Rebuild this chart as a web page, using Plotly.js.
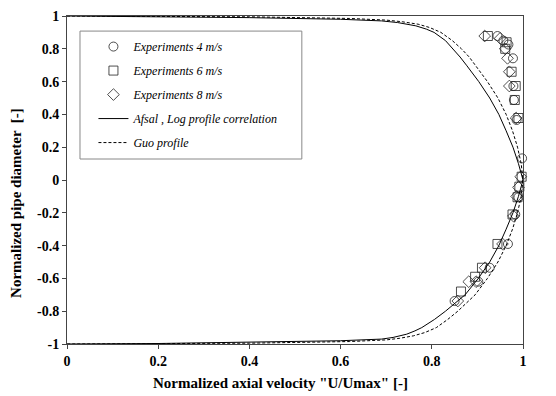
<!DOCTYPE html>
<html>
<head>
<meta charset="utf-8">
<script src="https://cdn.plot.ly/plotly-3.0.1.min.js"></script>
<style>html,body{margin:0;padding:0;background:#fff;}#chart{width:556px;height:396px;}</style>
</head>
<body>
<div id="chart"></div>
<script>
// Afsal, log profile correlation (solid)
var afsalY = [1, 0.997, 0.99, 0.98, 0.97, 0.96, 0.94, 0.92, 0.9, 0.85, 0.8, 0.75, 0.7, 0.6, 0.5, 0.4, 0.3, 0.2, 0.1, 0,
              -0.1, -0.2, -0.3, -0.4, -0.5, -0.6, -0.7, -0.75, -0.8, -0.85, -0.9, -0.92, -0.94, -0.96, -0.97, -0.98, -0.99, -0.997, -1];
var afsalX = [0, 0.2, 0.4, 0.6, 0.69, 0.725, 0.765, 0.788, 0.805, 0.83, 0.847, 0.862, 0.876, 0.903, 0.927, 0.947, 0.963, 0.978, 0.99, 1.0,
              0.99, 0.978, 0.963, 0.947, 0.927, 0.902, 0.873, 0.852, 0.83, 0.806, 0.778, 0.763, 0.745, 0.715, 0.69, 0.6, 0.4, 0.2, 0];
// Guo profile (dashed)
var guoY = [1, 0.995, 0.985, 0.975, 0.965, 0.95, 0.93, 0.9, 0.85, 0.8, 0.75, 0.7, 0.6, 0.5, 0.4, 0.3, 0.2, 0.1, 0,
            -0.1, -0.2, -0.3, -0.4, -0.5, -0.6, -0.7, -0.75, -0.8, -0.85, -0.9, -0.93, -0.95, -0.965, -0.975, -0.985, -0.995, -1];
var guoX = [0, 0.4, 0.62, 0.7, 0.735, 0.77, 0.795, 0.82, 0.845, 0.865, 0.882, 0.896, 0.922, 0.945, 0.963, 0.977, 0.988, 0.996, 1.0,
            0.996, 0.988, 0.977, 0.963, 0.945, 0.922, 0.895, 0.877, 0.857, 0.835, 0.81, 0.785, 0.76, 0.73, 0.7, 0.62, 0.4, 0];
// Experiments 4 m/s (circles)
var exp4X = [0.944, 0.957, 0.968, 0.978, 0.979, 0.98, 0.986, 0.998, 0.99, 0.983, 0.967, 0.927, 0.902, 0.85];
var exp4Y = [0.878, 0.85, 0.826, 0.742, 0.573, 0.488, 0.366, 0.132, -0.105, -0.21, -0.39, -0.535, -0.62, -0.738];
// Experiments 6 m/s (squares)
var exp6X = [0.923, 0.964, 0.961, 0.975, 0.984, 0.982, 0.99, 0.997, 0.992, 0.988, 0.977, 0.944, 0.91, 0.895, 0.864];
var exp6Y = [0.878, 0.84, 0.80, 0.66, 0.573, 0.488, 0.378, 0.02, -0.041, -0.105, -0.21, -0.39, -0.535, -0.59, -0.68];
// Experiments 8 m/s (diamonds)
var exp8X = [0.916, 0.95, 0.961, 0.966, 0.97, 0.97, 0.985, 0.995, 0.99, 0.986, 0.979, 0.955, 0.917, 0.881, 0.897, 0.857];
var exp8Y = [0.878, 0.864, 0.80, 0.742, 0.66, 0.573, 0.378, 0.02, -0.045, -0.1, -0.22, -0.39, -0.535, -0.62, -0.62, -0.738];

var xTickVals = [0, 0.2, 0.4, 0.6, 0.8, 1];
var xTickText = ['0', '0.2', '0.4', '0.6', '0.8', '1'];
var yTickVals = [1, 0.8, 0.6, 0.4, 0.2, 0, -0.2, -0.4, -0.6, -0.8, -1];
var yTickText = ['1', '0.8', '0.6', '0.4', '0.2', '0', '-0.2', '-0.4', '-0.6', '-0.8', '-1'];

var names = ['Experiments 4 m/s', 'Experiments 6 m/s', 'Experiments 8 m/s', 'Afsal , Log profile correlation', 'Guo profile'];
var xTitle = 'Normalized axial velocity "U/Umax" [-]';
var yTitle = 'Normalized pipe diameter  [-]';

var mk = function (sym) {
  return {symbol: sym, size: 9, color: '#222', line: {color: '#222', width: 0.8}};
};

var traces = [
  {x: exp4X, y: exp4Y, name: names[0], mode: 'markers', type: 'scatter', marker: mk('circle-open'), cliponaxis: false, legendgroup: 'a'},
  {x: exp6X, y: exp6Y, name: names[1], mode: 'markers', type: 'scatter', marker: mk('square-open'), cliponaxis: false, legendgroup: 'b'},
  {x: exp8X, y: exp8Y, name: names[2], mode: 'markers', type: 'scatter', marker: mk('diamond-open'), cliponaxis: false, legendgroup: 'c'},
  {x: afsalX, y: afsalY, name: names[3], mode: 'lines', type: 'scatter', line: {color: '#000', width: 1}, legendgroup: 'd'},
  {x: guoX, y: guoY, name: names[4], mode: 'lines', type: 'scatter', line: {color: '#000', width: 1, dash: '3px,2px'}, legendgroup: 'e'}
];

var serif = '"Times New Roman", "Liberation Serif", serif';
var tickFont = {family: serif, size: 14, color: '#000', weight: 'bold'};
var titleFont = {family: serif, size: 15, color: '#000', weight: 'bold'};

var layout = {
  width: 556, height: 396,
  margin: {l: 67, r: 33, t: 16, b: 52, pad: 0},
  paper_bgcolor: '#fff', plot_bgcolor: '#fff',
  showlegend: true,
  legend: {
    x: 0.058, y: 0.951, xanchor: 'left', yanchor: 'top',
    bgcolor: 'rgba(0,0,0,0)', borderwidth: 0,
    font: {family: serif, size: 12, color: '#000', style: 'italic'},
    tracegroupgap: 5, traceorder: 'grouped'
  },
  shapes: [{type: 'rect', xref: 'paper', yref: 'paper', x0: 0.0285, x1: 0.515, y0: 0.564, y1: 0.954,
            line: {color: '#888', width: 1}, fillcolor: 'rgba(0,0,0,0)'}],
  annotations: [
    {text: xTitle, xref: 'paper', yref: 'paper', x: 0.469, y: -0.119, xanchor: 'center', yanchor: 'middle',
     showarrow: false, font: titleFont},
    {text: yTitle, xref: 'paper', yref: 'paper', x: -0.112, y: 0.43, xanchor: 'center', yanchor: 'middle',
     textangle: -90, showarrow: false, font: titleFont}
  ],
  xaxis: {
    range: [0, 1], tickvals: xTickVals, ticktext: xTickText,
    showgrid: false, zeroline: false, showline: true, mirror: true,
    linecolor: '#444', linewidth: 1, ticks: 'outside', ticklen: 4, tickcolor: '#444',
    tickfont: tickFont, automargin: false
  },
  yaxis: {
    range: [-1, 1], tickvals: yTickVals, ticktext: yTickText,
    showgrid: false, zeroline: false, showline: true, mirror: true,
    linecolor: '#444', linewidth: 1, ticks: 'outside', ticklen: 4, tickcolor: '#444',
    tickfont: tickFont, automargin: false
  }
};

Plotly.newPlot('chart', traces, layout, {displayModeBar: false, staticPlot: true});
</script>
</body>
</html>
